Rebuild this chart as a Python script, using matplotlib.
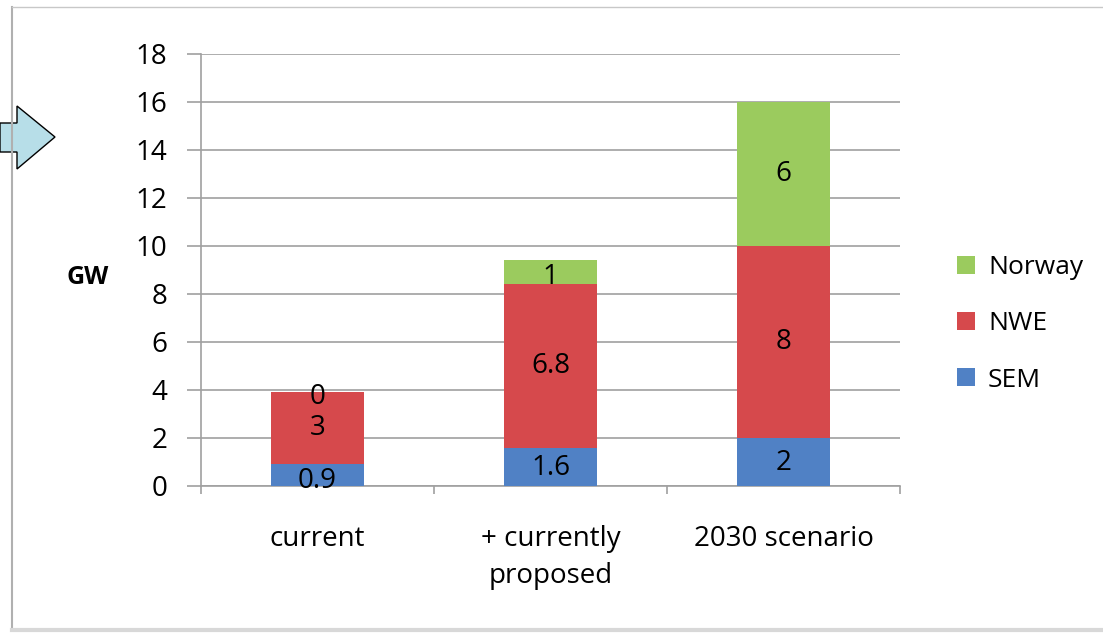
import matplotlib
matplotlib.use("Agg")
import matplotlib.pyplot as plt
from matplotlib.patches import Polygon
from matplotlib.lines import Line2D
import numpy as np

categories = ["current", "+ currently\nproposed", "2030 scenario"]
sem = [0.9, 1.6, 2]
nwe = [3, 6.8, 8]
norway = [0, 1, 6]
sem_labels = ["0.9", "1.6", "2"]
nwe_labels = ["3", "6.8", "8"]
norway_labels = ["0", "1", "6"]
yticks = [0, 2, 4, 6, 8, 10, 12, 14, 16, 18]

c_sem = "#5081C5"
c_nwe = "#D6494C"
c_nor = "#9BCB5E"

plt.rcParams['font.family'] = ['Open Sans', 'DejaVu Sans']

fig = plt.figure(figsize=(11.03, 6.34), dpi=100)
W, H = 1103, 634

def fx(px): return px / W
def fy(py): return 1 - py / H

FS = 20

# slide frame
fig.add_artist(Line2D([fx(12), fx(12)], [fy(7), fy(630)], color="#b0b0b0", lw=1.5))
fig.add_artist(Line2D([fx(12), 1], [fy(7), fy(7)], color="#c8c8c8", lw=1.0))
fig.add_artist(Line2D([fx(12), 1], [fy(630), fy(630)], color="#d8d8d8", lw=3))

# arrow
pts = [(0, 123), (17, 123), (17, 106), (55, 137), (17, 169), (17, 152), (0, 152)]
fig.add_artist(Polygon([(fx(x), fy(y)) for x, y in pts], closed=True,
                       facecolor="#B7DEE8", edgecolor="black", lw=1.0))

ax = fig.add_axes([fx(201), fy(486), fx(900) - fx(201), fy(54) - fy(486)])
x = np.arange(len(categories))
w = 0.4
ax.bar(x, sem, w, color=c_sem, label="SEM", zorder=3)
ax.bar(x, nwe, w, bottom=sem, color=c_nwe, label="NWE", zorder=3)
bot2 = [a + b for a, b in zip(sem, nwe)]
ax.bar(x, norway, w, bottom=bot2, color=c_nor, label="Norway", zorder=3)

for i in range(len(categories)):
    ax.text(x[i], sem[i] / 2 - (0.25 if i == 0 else 0.05), sem_labels[i],
            ha="center", va="center", fontsize=FS, zorder=4)
    ax.text(x[i], sem[i] + nwe[i] / 2, nwe_labels[i], ha="center", va="center", fontsize=FS, zorder=4)
    ax.text(x[i], bot2[i] + norway[i] / 2 - (0.2 if i < 2 else 0), norway_labels[i],
            ha="center", va="center", fontsize=FS, zorder=4)

ax.set_xlim(-0.5, 2.5)
ax.set_ylim(0, 18)
ax.set_yticks(yticks)
ax.set_yticklabels([str(t) for t in yticks], fontsize=FS)
ax.yaxis.grid(True, color="#a0a0a0", lw=1.2, zorder=0)
ax.set_xticks([-0.5, 0.5, 1.5, 2.5])
ax.set_xticklabels([])
ax.set_xticks(x, minor=True)
ax.set_xticklabels(categories, minor=True, fontsize=FS, linespacing=1.42)
ax.tick_params(axis="x", which="minor", length=0, pad=28)
ax.tick_params(axis="x", which="major", length=6, color="#a0a0a0", width=1.2, direction="out")
ax.tick_params(axis="y", length=10, color="#a0a0a0", width=1.2, pad=14)
for s in ["top", "right"]:
    ax.spines[s].set_visible(False)
for s in ["left", "bottom"]:
    ax.spines[s].set_color("#a0a0a0")
    ax.spines[s].set_linewidth(1.2)

fig.text(fx(88), fy(278), "GW", ha="center", va="center", fontsize=18, fontweight="bold")

handles, labels = ax.get_legend_handles_labels()
leg = fig.legend(handles[::-1], labels[::-1], loc="center left",
                 bbox_to_anchor=(fx(933), fy(324)), frameon=False, fontsize=19,
                 handlelength=0.68, handleheight=0.68, labelspacing=1.18, handletextpad=0.5)

fig.savefig("out.png", dpi=100)
